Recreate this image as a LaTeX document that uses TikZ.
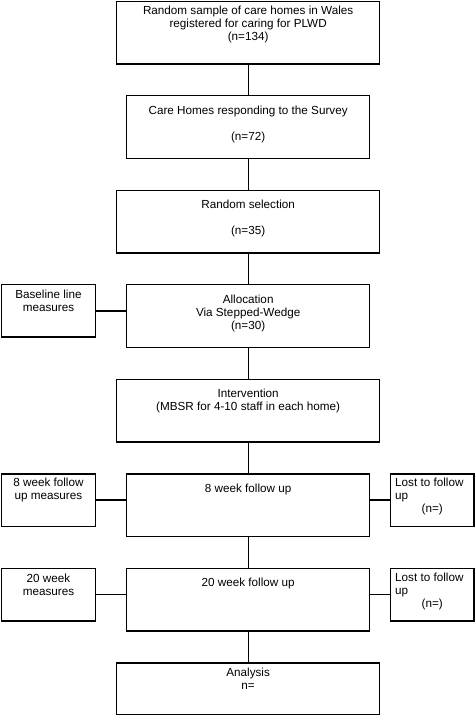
\documentclass[tikz,border=0pt]{standalone}
\usepackage{fontspec}
\setmainfont{Liberation Sans}
\begin{document}
\begin{tikzpicture}[x=1pt,y=-1pt,
  box/.style={draw, line width=1.3pt, inner sep=0pt, anchor=north west},
  wide/.style={box, minimum width=263pt, minimum height=62.6pt},
  narrow/.style={box, minimum width=243pt, minimum height=62.6pt},
  side/.style={box, minimum width=94.2pt, minimum height=52.4pt},
  txt/.style={anchor=north, inner sep=0pt, align=center, font=\fontsize{11.7pt}{13pt}\selectfont},
  ltxt/.style={anchor=north west, inner sep=0pt, align=left, font=\fontsize{11.7pt}{13pt}\selectfont},
  conn/.style={line width=1.3pt}]
\useasboundingbox (0,0) rectangle (474,715);
% main boxes
\node[wide]   (b1) at (116,0.7) {};
\node[narrow] (b2) at (126,95) {};
\node[wide]   (b3) at (116,189.6) {};
\node[narrow] (b4) at (126,284) {};
\node[wide]   (b5) at (116,378.6) {};
\node[narrow] (b6) at (126,473.2) {};
\node[narrow] (b7) at (126,567.8) {};
\node[box, minimum width=263pt, minimum height=51.9pt] (b8) at (116,662.3) {};
% side boxes
\node[side] (l1) at (0.7,284) {};
\node[side] (l2) at (0.7,473.2) {};
\node[side] (l3) at (0.7,567.8) {};
\node[box, minimum width=83.6pt, minimum height=52.4pt] (r2) at (389.6,473.2) {};
\node[box, minimum width=83.6pt, minimum height=52.4pt] (r3) at (389.6,567.8) {};
% texts
\node[txt] (t1) at ([yshift=-5.5pt]b1.north) {Random sample of care homes in Wales\\registered for caring for PLWD\\(n=134)};
\node[txt] (t2) at ([yshift=-11pt]b2.north) {Care Homes responding to the Survey\\[13pt](n=72)};
\node[txt] (t3) at ([yshift=-10.5pt]b3.north) {Random selection\\[13pt](n=35)};
\node[txt] (t4) at ([yshift=-10.7pt]b4.north) {Allocation\\Via Stepped-Wedge\\(n=30)};
\node[txt] (t5) at ([yshift=-10.4pt]b5.north) {Intervention\\(MBSR for 4-10 staff in each home)};
\node[txt] (t6) at ([yshift=-10.8pt]b6.north) {8 week follow up};
\node[txt] (t7) at ([yshift=-10.2pt]b7.north) {20 week follow up};
\node[txt] (t8) at ([yshift=-5.7pt]b8.north) {Analysis\\n=};
\node[txt] (tl1) at ([yshift=-6pt]l1.north) {Baseline line\\measures};
\node[txt] (tl2) at ([yshift=-4.8pt]l2.north) {8 week follow\\up measures};
\node[txt] (tl3) at ([yshift=-5.7pt]l3.north) {20 week\\measures};
\node[ltxt] (tr2) at ([xshift=5.4pt,yshift=-4.6pt]r2.north west) {Lost to follow\\up\\\hspace*{26.5pt}(n=)};
\node[ltxt] (tr3) at ([xshift=5.4pt,yshift=-4.6pt]r3.north west) {Lost to follow\\up\\\hspace*{26.5pt}(n=)};
% connectors
\draw[conn] (b1.south) -- (b2.north);
\draw[conn] (b2.south) -- (b3.north);
\draw[conn] (b3.south) -- (b4.north);
\draw[conn] (b4.south) -- (b5.north);
\draw[conn] (b5.south) -- (b6.north);
\draw[conn] (b6.south) -- (b7.north);
\draw[conn] (b7.south) -- (b8.north);
\draw[conn] (l1.east) -- (l1.east -| b4.west);
\draw[conn] (l2.east) -- (l2.east -| b6.west);
\draw[conn] (l3.east) -- (l3.east -| b7.west);
\draw[conn] (r2.west) -- (r2.west -| b6.east);
\draw[conn] (r3.west) -- (r3.west -| b7.east);
\end{tikzpicture}
\end{document}
